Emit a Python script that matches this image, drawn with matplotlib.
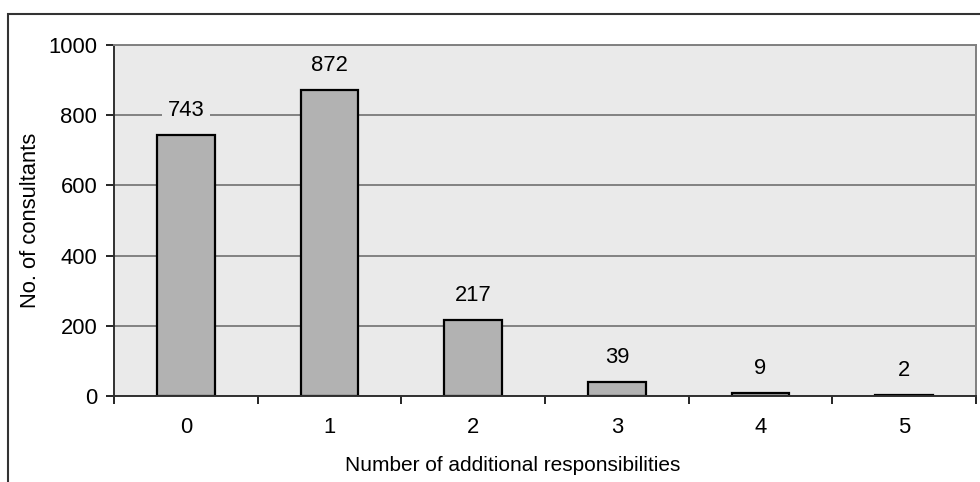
import matplotlib.pyplot as plt
from matplotlib.patches import Rectangle

# data
categories = ["0", "1", "2", "3", "4", "5"]
consultants = [743, 872, 217, 39, 9, 2]

plt.rcParams["font.family"] = ["Liberation Sans", "DejaVu Sans"]
FS = 15.8

fig = plt.figure(figsize=(9.8, 4.82), dpi=100)
ax = fig.add_axes([114 / 980, 86 / 482, 862 / 980, 351 / 482])
ax.set_facecolor("#EAEAEA")

x = list(range(len(categories)))
bars = ax.bar(x, consultants, width=0.4, color="#B2B2B2",
              edgecolor="black", linewidth=1.6, zorder=2)

# value labels with plot-colored box (hides the gridlines behind)
for rect, v in zip(bars, consultants):
    ax.annotate(str(v), (rect.get_x() + rect.get_width() / 2, rect.get_height()),
                xytext=(0, 10), textcoords="offset points",
                ha="center", va="bottom", fontsize=FS, zorder=5,
                annotation_clip=False,
                bbox=dict(boxstyle="square,pad=0.25", facecolor="#EAEAEA",
                          edgecolor="none"))

ax.set_xlim(-0.5, 5.5)
ax.set_ylim(0, 1000)
ax.set_yticks([0, 200, 400, 600, 800, 1000])
ax.set_xticks(x)
ax.set_xticklabels(categories)
ax.set_xticks([i - 0.5 for i in range(len(categories) + 1)], minor=True)
ax.tick_params(axis="x", which="major", length=0, pad=15, labelsize=FS)
ax.tick_params(axis="x", which="minor", length=6, width=1.2, direction="out")
ax.tick_params(axis="y", length=6, width=1.2, direction="out", pad=6, labelsize=FS)

ax.set_axisbelow(True)
ax.yaxis.grid(True, color="#707070", linewidth=1.2)

for side in ["left", "bottom"]:
    ax.spines[side].set_color("#303030")
    ax.spines[side].set_linewidth(1.4)
for side in ["top", "right"]:
    ax.spines[side].set_color("#808080")
    ax.spines[side].set_linewidth(1.4)

ax.set_xlabel("Number of additional responsibilities", fontsize=15, labelpad=13)
ax.xaxis.label.set_x((513 - 114) / 862)
ax.set_ylabel("No. of consultants", fontsize=FS, labelpad=5)

# outer chart frame
fig.patches.append(Rectangle((8 / 980, -0.2), 1.2, 0.2 + 468 / 482,
                             transform=fig.transFigure, fill=False,
                             edgecolor="#333333", linewidth=1.5))

fig.savefig("out.png", dpi=100)
